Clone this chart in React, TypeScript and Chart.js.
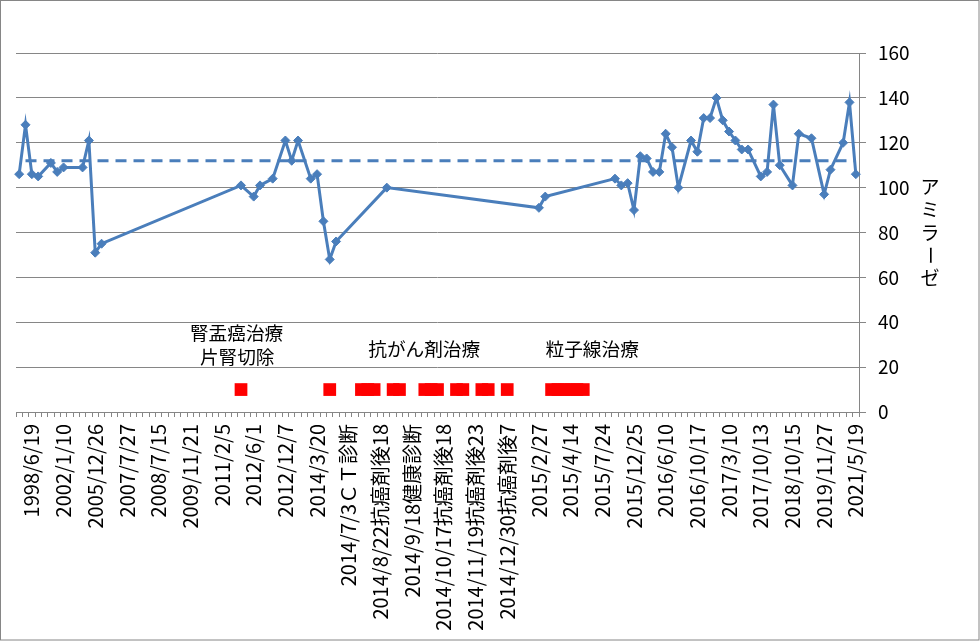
import React, { useEffect, useRef } from "react";
import { Chart, registerables } from "chart.js";

Chart.register(...registerables);

// ---- data ----
const categoryCount = 133;
const labelStart = 2;
const labelEvery = 5;
const tickLabels = [
  "1998/6/19",
  "2002/1/10",
  "2005/12/26",
  "2007/7/27",
  "2008/7/15",
  "2009/11/21",
  "2011/2/5",
  "2012/6/1",
  "2012/12/7",
  "2014/3/20",
  "2014/7/3ＣＴ診断",
  "2014/8/22抗癌剤後18",
  "2014/9/18健康診断",
  "2014/10/17抗癌剤後18",
  "2014/11/19抗癌剤後23",
  "2014/12/30抗癌剤後7",
  "2015/2/27",
  "2015/4/14",
  "2015/7/24",
  "2015/12/25",
  "2016/6/10",
  "2016/10/17",
  "2017/3/10",
  "2017/10/13",
  "2018/10/15",
  "2019/11/27",
  "2021/5/19",
];

const amylaseIndex = [
  0, 1, 2, 3, 5, 6, 7, 10, 11, 12, 13,
  35, 37, 38, 40, 42, 43, 44, 46, 47, 48, 49, 50,
  58, 82, 83, 94, 95, 96, 97, 98, 99, 100, 101, 102, 103, 104,
  106, 107, 108, 109, 110, 111, 112, 113, 114, 115, 117, 118, 119, 120,
  122, 123, 125, 127, 128, 130, 131, 132,
];
const amylaseValues = [
  106, 128, 106, 105, 111, 107, 109, 109, 121, 71, 75,
  101, 96, 101, 104, 121, 112, 121, 104, 106, 85, 68, 76,
  100, 91, 96, 104, 101, 102, 90, 114, 113, 107, 107, 124, 118, 100,
  121, 116, 131, 131, 140, 130, 125, 121, 117, 117, 105, 107, 137, 110,
  101, 124, 122, 97, 108, 120, 138, 106,
];

const treatmentIndex = [35, 49, 54, 55, 56, 59, 60, 64, 65, 66, 69, 70, 73, 74, 77, 84, 85, 86, 87, 88, 89];
const treatmentValue = 10;

const referenceValue = 112;
const referenceStart = 1;

const noteTexts = ["腎盂癌治療", "片腎切除", "抗がん剤治療", "粒子線治療"];
const noteX = [34.3, 34.4, 63.9, 90.4];
const noteY = [35.2, 24.5, 28.1, 28.1];

const axisTitle = "アミラーゼ";

// ---- derived tables ----
const labels = Array.from({ length: categoryCount }, (_, i) =>
  i >= labelStart && (i - labelStart) % labelEvery === 0
    ? tickLabels[(i - labelStart) / labelEvery] ?? ""
    : ""
);

const amylaseData: (number | null)[] = Array(categoryCount).fill(null);
amylaseIndex.forEach((idx, k) => (amylaseData[idx] = amylaseValues[k]));

const treatmentData: (number | null)[] = Array(categoryCount).fill(null);
treatmentIndex.forEach((idx) => (treatmentData[idx] = treatmentValue));

const referenceData: (number | null)[] = Array.from({ length: categoryCount }, (_, i) =>
  i >= referenceStart ? referenceValue : null
);

const FONT = "'Noto Sans CJK JP', 'Noto Sans', sans-serif";
const GRID = "#868686";
const BLUE = "#4A7EBB";

const overlayPlugin = {
  id: "overlay",
  afterDraw(chart: any) {
    const ctx = chart.ctx as CanvasRenderingContext2D;
    const xs = chart.scales.x;
    const ys = chart.scales.y;
    const area = chart.chartArea;
    ctx.save();
    ctx.fillStyle = "#000";
    ctx.textAlign = "center";
    ctx.textBaseline = "middle";
    ctx.font = `18.67px ${FONT}`;
    noteTexts.forEach((t, i) => {
      ctx.fillText(t, xs.getPixelForValue(noteX[i]), ys.getPixelForValue(noteY[i]));
    });
    // vertical axis title
    ctx.font = `19px ${FONT}`;
    const chars = Array.from(axisTitle);
    const step = 22.7;
    const cx = area.right + 71;
    const cy = (area.top + area.bottom) / 2;
    chars.forEach((c, i) => {
      const y = cy + (i - (chars.length - 1) / 2) * step;
      if (c === "ー") {
        ctx.save();
        ctx.translate(cx, y);
        ctx.rotate(Math.PI / 2);
        ctx.fillText(c, 0, 0);
        ctx.restore();
      } else {
        ctx.fillText(c, cx, y);
      }
    });
    // chart frame
    ctx.strokeStyle = GRID;
    ctx.lineWidth = 1;
    ctx.strokeRect(0.5, 0.5, chart.width - 1.5, chart.height - 1.5);
    ctx.restore();
  },
};

export default function App() {
  const canvasRef = useRef<HTMLCanvasElement | null>(null);

  useEffect(() => {
    if (!canvasRef.current) return;
    const chart = new Chart(canvasRef.current, {
      type: "line",
      data: {
        labels,
        datasets: [
          {
            data: amylaseData,
            borderColor: BLUE,
            backgroundColor: BLUE,
            borderWidth: 3,
            pointStyle: "rectRot",
            pointRadius: 4.5,
            pointBorderWidth: 1,
            pointBorderColor: BLUE,
            pointBackgroundColor: BLUE,
            spanGaps: true,
            tension: 0,
          },
          {
            data: referenceData,
            borderColor: BLUE,
            borderWidth: 3,
            borderDash: [11, 7],
            pointRadius: 0,
            spanGaps: true,
          },
          {
            data: treatmentData,
            showLine: false,
            pointStyle: "rect",
            pointRadius: 9,
            pointBorderWidth: 0,
            pointBackgroundColor: "#FF0000",
            pointBorderColor: "#FF0000",
          },
        ],
      },
      options: {
        responsive: false,
        animation: false,
        events: [],
        layout: { padding: { left: 16, top: 53, right: 0, bottom: 0 } },
        plugins: { legend: { display: false }, tooltip: { enabled: false } },
        scales: {
          x: {
            type: "category",
            offset: true,
            afterFit: (s: any) => {
              s.height = 229;
            },
            grid: {
              display: true,
              drawOnChartArea: false,
              drawTicks: true,
              tickLength: 5,
              offset: true,
              color: GRID,
            },
            border: { display: true, color: GRID },
            ticks: {
              autoSkip: false,
              minRotation: 90,
              maxRotation: 90,
              padding: 7,
              color: "#000",
              font: { family: FONT, size: 20 },
            },
          },
          y: {
            position: "right",
            min: 0,
            max: 160,
            afterFit: (s: any) => {
              s.width = 121;
            },
            grid: { color: GRID, tickLength: 7, drawTicks: true },
            border: { display: true, color: GRID },
            ticks: {
              stepSize: 20,
              padding: 12,
              color: "#000",
              font: { family: FONT, size: 19 },
            },
          },
        },
      },
      plugins: [overlayPlugin],
    });
    return () => chart.destroy();
  }, []);

  return (
    <div style={{ position: "absolute", left: 0, top: 0, width: 980, height: 641, background: "#fff" }}>
      <canvas ref={canvasRef} width={980} height={641} style={{ width: 980, height: 641, display: "block" }} />
    </div>
  );
}
